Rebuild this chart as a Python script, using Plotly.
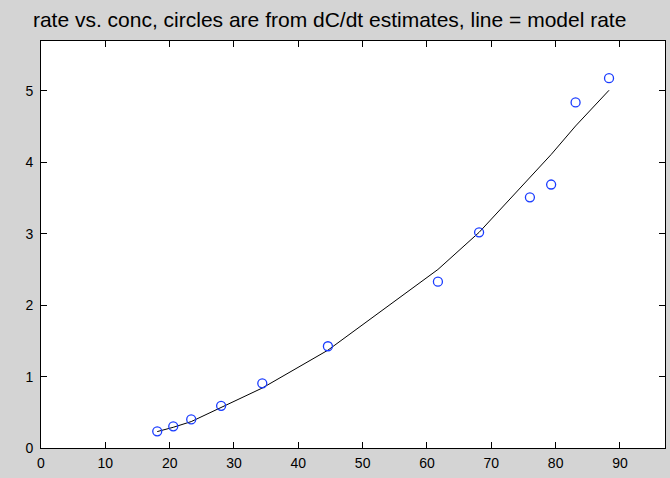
import plotly.graph_objects as go

conc = [18.07, 20.56, 23.35, 28.0, 34.4, 44.6, 61.7, 68.1, 76.0, 79.3, 83.1, 88.3]
rate_est = [0.234, 0.304, 0.40, 0.59, 0.906, 1.425, 2.33, 3.02, 3.51, 3.69, 4.84, 5.18]
rate_model = [0.23, 0.29, 0.37, 0.57, 0.84, 1.37, 2.50, 3.02, 3.79, 4.11, 4.51, 5.01]

x_ticks = [0, 10, 20, 30, 40, 50, 60, 70, 80, 90]
y_ticks = [0, 1, 2, 3, 4, 5]

FONT = "Liberation Sans, Arial, Helvetica, sans-serif"

fig = go.Figure()
fig.add_trace(go.Scatter(x=conc, y=rate_model, mode="lines",
                         line=dict(color="black", width=1), showlegend=False))
fig.add_trace(go.Scatter(x=conc, y=rate_est, mode="markers",
                         marker=dict(symbol="circle-open", size=9,
                                     color="#1a3cff", line=dict(width=1.3)),
                         showlegend=False))

axis_common = dict(showline=True, linecolor="black", linewidth=1, mirror="allticks",
                   ticks="inside", ticklen=6, tickcolor="black", showgrid=False,
                   zeroline=False, tickfont=dict(family=FONT, size=14, color="black"))

fig.update_layout(
    width=670, height=478,
    margin=dict(l=41, r=5, t=41, b=30),
    paper_bgcolor="#d4d4d4", plot_bgcolor="white",
    title=dict(text="rate vs. conc, circles are from dC/dt estimates, line = model rate",
               x=0.492, xanchor="center", y=0.958, yanchor="middle",
               font=dict(family=FONT, size=21, color="black")),
    xaxis=dict(range=[0, 97], tickvals=x_ticks, ticklabelstandoff=2, **axis_common),
    yaxis=dict(range=[0, 5.7], tickvals=y_ticks, ticklabelstandoff=4, **axis_common),
)

fig.write_html("out.html")
